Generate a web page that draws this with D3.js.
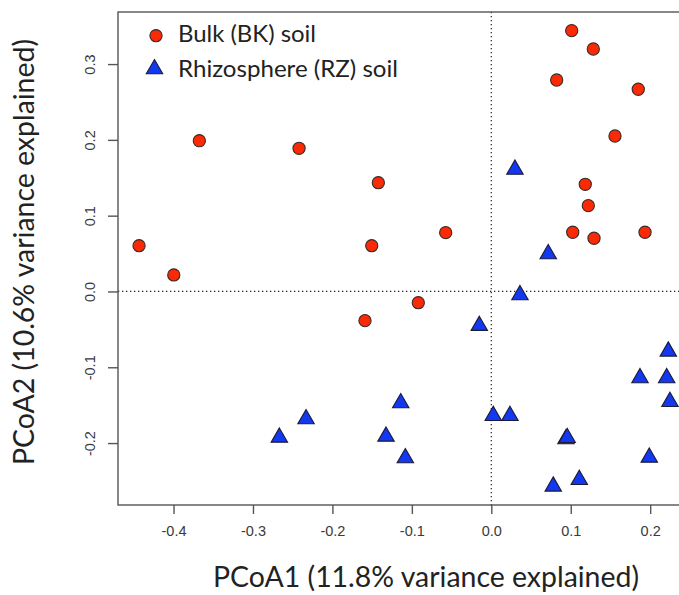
<!DOCTYPE html>
<html><head><meta charset="utf-8">
<script src="https://cdn.jsdelivr.net/npm/d3@7"></script>
<style>body{margin:0;background:#fff}</style>
</head><body><svg id="c" width="679" height="595"></svg>
<script>
// ---- data ----
const bulkX = [0.1012, 0.1284, 0.0823, 0.1850, 0.1557, -0.3675, -0.2420, -0.1422, 0.1183, 0.1221,
               -0.4434, -0.1505, -0.0574, 0.1025, 0.1293, 0.1935, -0.3997, -0.0919, -0.1590];
const bulkY = [0.3441, 0.3199, 0.2790, 0.2668, 0.2051, 0.1989, 0.1889, 0.1435, 0.1414, 0.1132,
               0.0604, 0.0604, 0.0776, 0.0781, 0.0702, 0.0781, 0.0218, -0.0148, -0.0385];
const rhizoX = [0.0298, 0.0717, 0.0361, -0.0151, 0.2228, 0.1872, 0.2208, 0.2249, -0.1140, -0.2332,
                0.0025, 0.0235, -0.2668, -0.1325, 0.0940, 0.0955, 0.1989, -0.1082, 0.1108, 0.0780];
const rhizoY = [0.1610, 0.0495, -0.0046, -0.0451, -0.0790, -0.1141, -0.1141, -0.1454, -0.1471, -0.1682,
                -0.1639, -0.1639, -0.1925, -0.1912, -0.1946, -0.1930, -0.2189, -0.2197, -0.2483, -0.2571];
const xTickValues = [-0.4, -0.3, -0.2, -0.1, 0.0, 0.1, 0.2];
const xTickLabels = ["-0.4", "-0.3", "-0.2", "-0.1", "0.0", "0.1", "0.2"];
const yTickValues = [-0.2, -0.1, 0.0, 0.1, 0.2, 0.3];
const yTickLabels = ["-0.2", "-0.1", "0.0", "0.1", "0.2", "0.3"];
const seriesNames = ["Bulk (BK) soil", "Rhizosphere (RZ) soil"];
const xTitle = "PCoA1 (11.8% variance explained)";
const yTitle = "PCoA2 (10.6% variance explained)";

// ---- layout ----
const L = 118, R = 681, T = 12, B = 505;
const redFill = "#fa2a06", blueFill = "#1238f0";
const svg = d3.select("#c");
svg.append("rect").attr("width", 679).attr("height", 595).attr("fill", "#fff");

const x = d3.scaleLinear().domain([-0.4699, 0.2388]).range([L, R]);
const y = d3.scaleLinear().domain([-0.2817, 0.3687]).range([B, T]);

// zero reference lines
svg.append("line").attr("x1", x(0)).attr("x2", x(0)).attr("y1", T).attr("y2", B)
  .attr("stroke", "#222").attr("stroke-width", 1.2).attr("stroke-dasharray", "1.3,2.7");
svg.append("line").attr("x1", L).attr("x2", R).attr("y1", y(0)).attr("y2", y(0))
  .attr("stroke", "#222").attr("stroke-width", 1.2).attr("stroke-dasharray", "1.3,2.7");

// frame
svg.append("rect").attr("x", L).attr("y", T).attr("width", R - L).attr("height", B - T)
  .attr("fill", "none").attr("stroke", "#555").attr("stroke-width", 1.4);

// axes
const tickFont = "'Liberation Sans', Arial, sans-serif";
const xAxis = d3.axisBottom(x).tickValues(xTickValues)
  .tickFormat((d, i) => xTickLabels[i]).tickSize(9).tickPadding(12);
const gx = svg.append("g").attr("transform", `translate(0,${B})`).call(xAxis);
gx.select(".domain").remove();
gx.selectAll(".tick line").attr("stroke", "#555").attr("stroke-width", 1.4);
gx.selectAll(".tick text").attr("font-family", tickFont)
  .attr("font-size", 14.5).attr("fill", "#3a3a3a");

const yAxis = d3.axisLeft(y).tickValues(yTickValues)
  .tickFormat((d, i) => yTickLabels[i]).tickSize(10);
const gy = svg.append("g").attr("transform", `translate(${L},0)`).call(yAxis);
gy.select(".domain").remove();
gy.selectAll(".tick line").attr("stroke", "#555").attr("stroke-width", 1.4);
gy.selectAll(".tick text").attr("font-family", tickFont)
  .attr("font-size", 14.5).attr("fill", "#3a3a3a")
  .attr("x", null).attr("dy", null)
  .attr("text-anchor", "middle")
  .attr("transform", "translate(-23,0) rotate(-90)");

// markers
const u = 6.1;
const triPath = `M0,${-1.555 * u}L${1.347 * u},${0.778 * u}L${-1.347 * u},${0.778 * u}Z`;

svg.append("g").selectAll("circle").data(d3.range(bulkX.length)).join("circle")
  .attr("cx", i => x(bulkX[i])).attr("cy", i => y(bulkY[i])).attr("r", u)
  .attr("fill", redFill).attr("stroke", "#3a2a26").attr("stroke-width", 1.1);

svg.append("g").selectAll("path").data(d3.range(rhizoX.length)).join("path")
  .attr("transform", i => `translate(${x(rhizoX[i])},${y(rhizoY[i])})`)
  .attr("d", triPath)
  .attr("fill", blueFill).attr("stroke", "#1a1a3a").attr("stroke-width", 1.1);

// legend
const lg = svg.append("g");
lg.append("circle").attr("cx", 156).attr("cy", 35.7).attr("r", u)
  .attr("fill", redFill).attr("stroke", "#3a2a26").attr("stroke-width", 1.1);
lg.append("path").attr("transform", "translate(154.5,69)").attr("d", triPath)
  .attr("fill", blueFill).attr("stroke", "#1a1a3a").attr("stroke-width", 1.1);
const legFont = "Lato, 'Open Sans', sans-serif";
lg.append("text").attr("x", 178).attr("y", 42).text(seriesNames[0])
  .attr("font-family", legFont).attr("font-size", 24).attr("fill", "#222")
  .attr("textLength", 138).attr("lengthAdjust", "spacingAndGlyphs");
lg.append("text").attr("x", 178).attr("y", 77).text(seriesNames[1])
  .attr("font-family", legFont).attr("font-size", 24).attr("fill", "#222")
  .attr("textLength", 220).attr("lengthAdjust", "spacingAndGlyphs");

// axis titles
svg.append("text").attr("x", 426).attr("y", 587).attr("text-anchor", "middle").text(xTitle)
  .attr("font-family", legFont).attr("font-size", 28).attr("fill", "#222")
  .attr("textLength", 426).attr("lengthAdjust", "spacingAndGlyphs");
svg.append("text").attr("transform", "translate(34,252) rotate(-90)").attr("text-anchor", "middle").text(yTitle)
  .attr("font-family", legFont).attr("font-size", 28).attr("fill", "#222")
  .attr("textLength", 426).attr("lengthAdjust", "spacingAndGlyphs");
</script>
</body></html>
